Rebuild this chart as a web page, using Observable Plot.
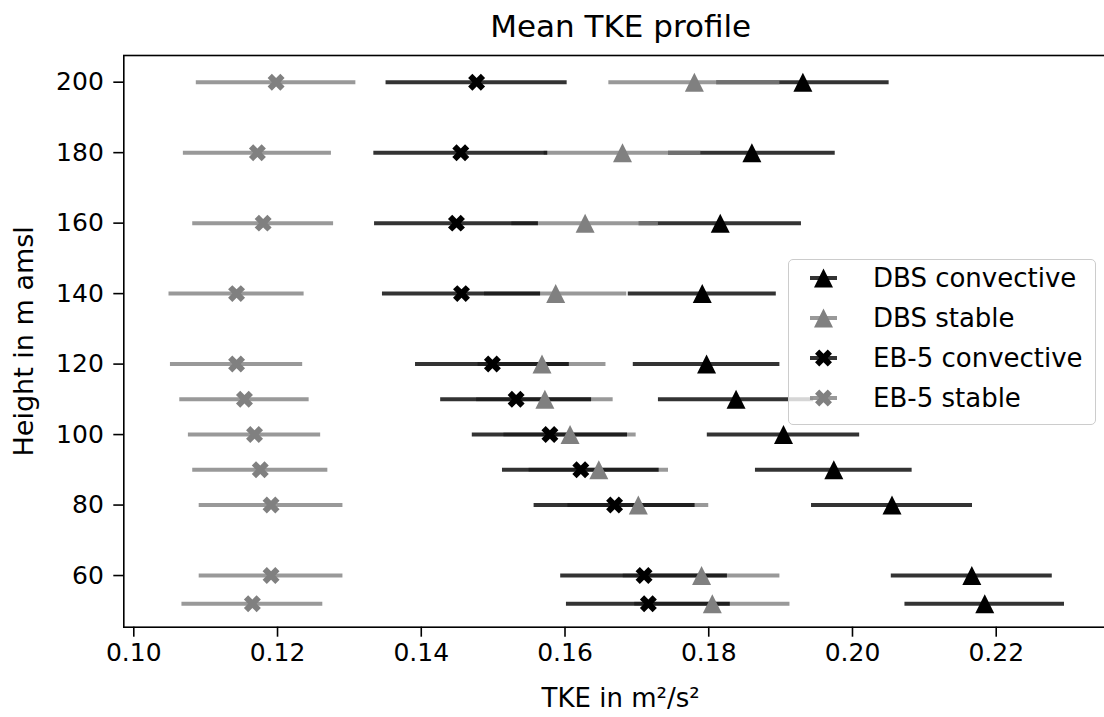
<!DOCTYPE html>
<html><head><meta charset="utf-8">
<script src="https://cdn.jsdelivr.net/npm/d3@7"></script>
<script src="https://cdn.jsdelivr.net/npm/@observablehq/plot@0.6"></script>
<style>
html,body{margin:0;padding:0;background:#fff;overflow:hidden;}
#wrap{position:relative;width:1104px;height:717px;overflow:hidden;}
#legend{position:absolute;left:788px;top:259px;width:306px;height:164px;background:rgba(255,255,255,0.8);border:1px solid #cccccc;border-radius:5px;font-family:"DejaVu Sans";font-size:26px;color:#000;}
.item{position:absolute;left:0;height:40px;width:300px;}
.item svg{position:absolute;left:20px;top:0;}
.item span{position:absolute;left:84px;top:0;line-height:40px;white-space:nowrap;}
</style></head><body><div id="wrap"></div><script>
// ---- data ----
const heights = [200, 180, 160, 140, 120, 110, 100, 90, 80, 60, 52];
const dbsConvMean = [0.1931, 0.1860, 0.1816, 0.1791, 0.1797, 0.1838, 0.1904, 0.1974, 0.2055, 0.2166, 0.2184];
const dbsConvErr  = [0.0120, 0.0116, 0.0113, 0.0103, 0.0102, 0.0108, 0.0106, 0.0109, 0.0112, 0.0112, 0.0111];
const dbsStabMean = [0.1780, 0.1680, 0.1628, 0.1587, 0.1568, 0.1572, 0.1607, 0.1647, 0.1702, 0.1790, 0.1805];
const dbsStabErr  = [0.0119, 0.0109, 0.0102, 0.0099, 0.0089, 0.0095, 0.0092, 0.0097, 0.0098, 0.0109, 0.0108];
const ebConvMean  = [0.1477, 0.1455, 0.1449, 0.1456, 0.1499, 0.1532, 0.1579, 0.1622, 0.1669, 0.1710, 0.1716];
const ebConvErr   = [0.0126, 0.0121, 0.0114, 0.0110, 0.0107, 0.0105, 0.0108, 0.0109, 0.0112, 0.0116, 0.0114];
const ebStabMean  = [0.1198, 0.1172, 0.1180, 0.1143, 0.1143, 0.1154, 0.1168, 0.1176, 0.1191, 0.1191, 0.1165];
const ebStabErr   = [0.0111, 0.0103, 0.0098, 0.0094, 0.0092, 0.0090, 0.0092, 0.0094, 0.0100, 0.0100, 0.0098];
const seriesLabels = ["DBS convective", "DBS stable", "EB-5 convective", "EB-5 stable"];
const xTicks = [0.10, 0.12, 0.14, 0.16, 0.18, 0.20, 0.22];
const yTicks = [60, 80, 100, 120, 140, 160, 180, 200];
const titleText = "Mean TKE profile";
const xLabel = "TKE in m²/s²";
const yLabel = "Height in m amsl";

// ---- symbols (matplotlib-like) ----
const triangleUp = {draw(ctx, size) {
  const r = Math.sqrt(size / Math.PI);
  ctx.moveTo(0, -r); ctx.lineTo(r, r); ctx.lineTo(-r, r); ctx.closePath();
}};
const xFilled = {draw(ctx, size) {
  const L = Math.sqrt(size / Math.PI), w = L / 3;
  const pts = [[-w,-L],[w,-L],[w,-w],[L,-w],[L,w],[w,w],[w,L],[-w,L],[-w,w],[-L,w],[-L,-w],[-w,-w]];
  pts.forEach(([x, y], i) => {
    const X = (x - y) / Math.SQRT2, Y = (x + y) / Math.SQRT2;
    i ? ctx.lineTo(X, Y) : ctx.moveTo(X, Y);
  });
  ctx.closePath();
}};

const series = [
  {label: seriesLabels[0], mean: dbsConvMean, err: dbsConvErr, color: "#000000", symbol: triangleUp, r: 9.5},
  {label: seriesLabels[1], mean: dbsStabMean, err: dbsStabErr, color: "#808080", symbol: triangleUp, r: 9.5},
  {label: seriesLabels[2], mean: ebConvMean,  err: ebConvErr,  color: "#000000", symbol: xFilled, r: 9},
  {label: seriesLabels[3], mean: ebStabMean,  err: ebStabErr,  color: "#808080", symbol: xFilled, r: 9}
];
const tables = series.map(s => heights.map((h, i) => ({series: s.label, h, m: s.mean[i], e: s.err[i]})));

const bars = series.map((s, k) => Plot.ruleY(tables[k], {
  y: "h", x1: d => d.m - d.e, x2: d => d.m + d.e,
  stroke: s.color, strokeWidth: 4, strokeOpacity: 0.8
}));
const dots = series.map((s, k) => Plot.dot(tables[k], {
  x: "m", y: "h", symbol: s.symbol, r: s.r, fill: s.color, stroke: "none"
}));

const chart = Plot.plot({
  width: 1104, height: 717,
  marginLeft: 123.3, marginRight: -7, marginTop: 55, marginBottom: 90.3,
  style: {fontFamily: "DejaVu Sans", fontSize: "25px", color: "#000", background: "#fff", overflow: "visible"},
  x: {domain: [0.09861, 0.23604]},
  y: {domain: [45.34, 207.57]},
  marks: [
    ...bars,
    ...dots,
    Plot.frame({stroke: "#000", strokeWidth: 1.6}),
    Plot.axisX({ticks: xTicks, tickFormat: d3.format(".2f"), tickSize: 10, tickPadding: 6, fontSize: 25, label: null, strokeWidth: 1.6}),
    Plot.axisY({ticks: yTicks, tickSize: 10, tickPadding: 10, fontSize: 25, label: null, strokeWidth: 1.6}),
    Plot.text([titleText], {frameAnchor: "top", textAnchor: "middle", lineAnchor: "middle", text: d => d, dy: -28.8, dx: 3, fontSize: 31}),
    Plot.text([xLabel], {frameAnchor: "bottom", textAnchor: "middle", lineAnchor: "middle", text: d => d, dy: 71, dx: 3, fontSize: 26}),
    Plot.text([yLabel], {frameAnchor: "left", textAnchor: "middle", lineAnchor: "middle", text: d => d, rotate: -90, dx: -99, fontSize: 27})
  ]
});
const wrap = document.getElementById("wrap");
wrap.appendChild(chart);

// ---- legend overlay ----
const legend = document.createElement("div");
legend.id = "legend";
series.forEach((s, k) => {
  const item = document.createElement("div");
  item.className = "item";
  item.style.top = (k * 40 - 1.7) + "px";
  const p = d3.path();
  s.symbol.draw(p, s.r * s.r * Math.PI);
  item.innerHTML = `<svg width="34" height="40" viewBox="0 0 34 40">
    <line x1="1" x2="28" y1="20" y2="20" stroke="${s.color}" stroke-width="4" stroke-opacity="0.8"/>
    <path transform="translate(14.5,20)" d="${p.toString()}" fill="${s.color}"/></svg><span>${s.label}</span>`;
  legend.appendChild(item);
});
wrap.appendChild(legend);
</script></body></html>
